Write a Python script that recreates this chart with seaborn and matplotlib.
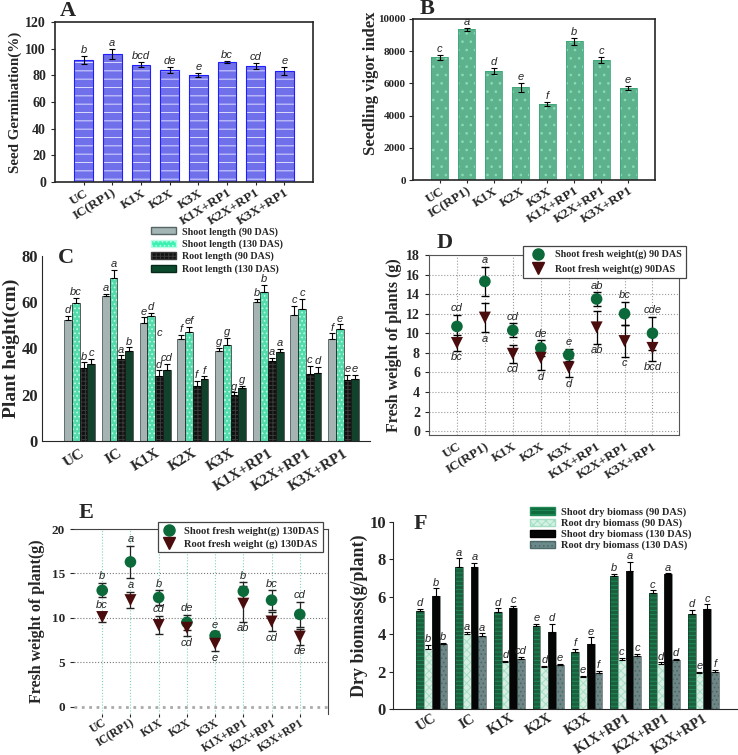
import numpy as np
import pandas as pd
import matplotlib
matplotlib.use('Agg')
import matplotlib.pyplot as plt
import seaborn as sns
from matplotlib.patches import Patch, Rectangle
from matplotlib.lines import Line2D

# ---------------- data ----------------
trt_long = ['UC', 'IC(RP1)', 'K1X', 'K2X', 'K3X', 'K1X+RP1', 'K2X+RP1', 'K3X+RP1']
trt_short = ['UC', 'IC', 'K1X', 'K2X', 'K3X', 'K1X+RP1', 'K2X+RP1', 'K3X+RP1']

# A - seed germination
germ = [91.5, 96, 88, 84, 80.5, 90, 87, 83]
germ_err = [3, 3.5, 2, 2.5, 1.5, 0.5, 2.5, 3]
germ_let = ['b', 'a', 'bcd', 'de', 'e', 'bc', 'cd', 'e']

# B - seedling vigor index
svi = [7630, 9350, 6780, 5760, 4720, 8620, 7470, 5720]
svi_err = [150, 120, 200, 280, 120, 220, 200, 110]
svi_let = ['c', 'a', 'd', 'e', 'f', 'b', 'c', 'e']

# C - plant height
c_series = ['Shoot length (90 DAS)', 'Shoot length (130 DAS)', 'Root length (90 DAS)', 'Root length (130 DAS)']
shoot90 = [52.5, 62.5, 51, 44, 39, 60, 54.5, 44]
shoot90_err = [1.5, 1, 2.5, 2, 1.2, 1.5, 4, 2.5]
shoot90_let = ['d', 'a', 'e', 'f', 'g', 'b', 'c', 'f']
shoot130 = [59.5, 70.5, 54, 47, 41.5, 64.5, 57, 48.5]
shoot130_err = [2.5, 3.5, 1.5, 2.5, 3, 3, 4.5, 2]
shoot130_let = ['bc', 'a', 'd', 'ef', 'g', 'b', 'c', 'e']
root90 = [31.5, 35.5, 28, 24, 20, 34.5, 29, 26.5]
root90_err = [2.5, 1.5, 2.5, 2, 1, 1.5, 3.5, 2]
root90_let = ['b', 'a', 'd', 'f', 'g', 'a', 'c', 'e']
root130 = [33.5, 39, 30.5, 27, 23, 38.5, 29.5, 27]
root130_err = [2, 1.5, 3, 1, 1, 1.5, 2.5, 1.5]
root130_let = ['c', 'b', 'cd', 'f', 'g', 'a', 'd', 'e']

# D - fresh weight 90 DAS
sfw90 = [10.7, 15.3, 10.3, 8.5, 7.8, 13.5, 12, 10]
sfw90_err = [1.2, 1.5, 0.7, 0.8, 0.6, 0.7, 1.2, 1.7]
sfw90_let = ['cd', 'a', 'cd', 'de', 'e', 'ab', 'bc', 'cde']
rfw90 = [9, 11.6, 7.9, 7.5, 6.5, 10.6, 9.2, 8.5]
rfw90_err = [0.8, 1.5, 0.9, 1.3, 1, 1.7, 1.6, 1.3]
rfw90_let = ['bc', 'a', 'cd', 'd', 'd', 'ab', 'c', 'bcd']

# E - fresh weight 130 DAS
sfw130 = [13.1, 16.3, 12.3, 9.5, 8, 13, 12, 10.4]
sfw130_err = [0.8, 1.8, 0.8, 0.8, 0.5, 1, 1.1, 1.4]
sfw130_let = ['b', 'a', 'b', 'de', 'e', 'b', 'bc', 'cd']
rfw130 = [10.1, 12, 9.2, 8.9, 7.1, 11.6, 9.6, 7.9]
rfw130_err = [0.6, 0.9, 1, 0.9, 0.8, 2, 1.1, 0.9]
rfw130_let = ['bc', 'a', 'cd', 'cd', 'e', 'ab', 'cd', 'de']
rfw130_above = [True, True, True, False, False, False, False, False]

# F - dry biomass
f_series = ['Shoot dry biomass (90 DAS)', 'Root dry biomass (90 DAS)', 'Shoot dry biomass (130 DAS)', 'Root dry biomass (130 DAS)']
sdb90 = [5.25, 7.6, 5.2, 4.45, 3.05, 7.1, 6.2, 5.1]
sdb90_err = [0.12, 0.45, 0.18, 0.12, 0.18, 0.12, 0.15, 0.2]
sdb90_let = ['d', 'a', 'd', 'e', 'f', 'b', 'c', 'd']
rdb90 = [3.2, 4.0, 2.5, 2.25, 1.7, 2.6, 2.4, 1.9]
rdb90_err = [0.22, 0.1, 0.07, 0.07, 0.07, 0.13, 0.1, 0.1]
rdb90_let = ['b', 'a', 'd', 'd', 'e', 'c', 'd', 'e']
sdb130 = [6.05, 7.6, 5.4, 4.1, 3.45, 7.4, 7.2, 5.35]
sdb130_err = [0.4, 0.22, 0.12, 0.45, 0.38, 0.45, 0.05, 0.25]
sdb130_let = ['b', 'a', 'c', 'd', 'e', 'a', 'a', 'c']
rdb130 = [3.5, 3.9, 2.7, 2.35, 1.95, 2.85, 2.6, 2.0]
rdb130_err = [0.05, 0.15, 0.1, 0.07, 0.07, 0.1, 0.1, 0.08]
rdb130_let = ['b', 'a', 'cd', 'e', 'f', 'c', 'd', 'f']

# ---------------- style ----------------
sns.set_style('ticks')
plt.rcParams['font.family'] = ['Liberation Serif', 'DejaVu Serif']
plt.rcParams['font.weight'] = 'bold'
plt.rcParams['hatch.linewidth'] = 0.7
LET = dict(family='Liberation Sans', style='italic', fontweight='normal', fontsize=8)

fig = plt.figure(figsize=(7.38, 7.55), dpi=100)


def fax(l, t, r, b):
    # axes from pixel box
    W, H = 738, 755
    return fig.add_axes([l / W, 1 - b / H, (r - l) / W, (b - t) / H])


def texture(ax, bars, hatch, hcolor, ecolor, lw=0.6):
    for p in bars:
        p.set_hatch(hatch)
        p.set_edgecolor(hcolor)
        p.set_linewidth(0)
        ax.add_patch(Rectangle(p.get_xy(), p.get_width(), p.get_height(),
                               fill=False, ec=ecolor, lw=lw, zorder=p.get_zorder() + 0.1))


def bar_err(ax, bars, err, lets, both=True, off=0.0):
    xs = [p.get_x() + p.get_width() / 2 for p in bars]
    ys = [p.get_height() for p in bars]
    lo = err if both else [0] * len(err)
    ax.errorbar(xs, ys, yerr=[lo, err], fmt='none', ecolor='black', elinewidth=0.8,
                capsize=2.5, capthick=0.8, zorder=5)
    for x, y, e, t in zip(xs, ys, err, lets):
        ax.text(x, y + e + off, t, ha='center', va='bottom', **LET)


def xlabels(ax, labels, size):
    ax.set_xticks(range(len(labels)))
    ax.set_xticklabels(labels, rotation=32, ha='right', rotation_mode='anchor',
                       fontsize=size, fontweight='bold')


LEG = dict(family='Liberation Serif', weight='bold')

# ---------------- A ----------------
ax = fax(55, 22, 313, 182)
sns.barplot(x=trt_long, y=germ, color='#5c5cff', width=0.66, errorbar=None, ax=ax)
texture(ax, ax.containers[0], '--', '#dcdcff', '#1f1fff', 0.8)
bar_err(ax, ax.containers[0], germ_err, germ_let, off=0.8)
ax.set_ylim(0, 120)
ax.set_xlim(-1, 8)
ax.set_yticks(range(0, 121, 20))
ax.tick_params(axis='y', labelsize=10, length=3)
ax.tick_params(axis='x', length=2.5, pad=1)
xlabels(ax, trt_long, 9.5)
ax.set_ylabel('Seed Germination(%)', fontsize=10.8, fontweight='bold', labelpad=2)
for s in ax.spines.values():
    s.set_linewidth(1.2)

# ---------------- B ----------------
ax = fax(413, 19, 655, 180)
sns.barplot(x=trt_long, y=svi, color='#4fbf8e', width=0.64, errorbar=None, ax=ax)
texture(ax, ax.containers[0], '..', '#86dcb4', '#3aa878', 0.6)
bar_err(ax, ax.containers[0], svi_err, svi_let, off=40)
ax.set_ylim(0, 10000)
ax.set_xlim(-1, 8)
ax.set_yticks(range(0, 10001, 2000))
ax.tick_params(axis='y', labelsize=8, length=3, pad=2)
ax.tick_params(axis='x', length=2.5, pad=1)
xlabels(ax, trt_long, 9.5)
ax.set_ylabel('Seedling vigor index', fontsize=12, fontweight='bold')
ax.yaxis.set_label_coords(-0.142, 0.6)
for s in ax.spines.values():
    s.set_linewidth(1.2)

# ---------------- C ----------------
ax = fax(42, 256, 370, 441)
dfc = pd.DataFrame({'trt': trt_short * 4,
                    'series': np.repeat(c_series, 8),
                    'val': shoot90 + shoot130 + root90 + root130})
c_cols = ['#a3b5b5', '#3cf2b2', '#111111', '#0b4a2c']
sns.barplot(data=dfc, x='trt', y='val', hue='series', palette=c_cols, width=0.82,
            errorbar=None, legend=False, ax=ax)
c_hatch = [('', '#566464'), ('....', '#b8ffe6'), ('++++', '#3a3a3a'), ('', '#062a19')]
c_err = [shoot90_err, shoot130_err, root90_err, root130_err]
c_let = [shoot90_let, shoot130_let, root90_let, root130_let]
for i in range(4):
    h, hc = c_hatch[i]
    texture(ax, ax.containers[i], h, hc, '#1a1a1a' if i != 0 else '#4a5555', 0.5)
    bar_err(ax, ax.containers[i], c_err[i], c_let[i], both=False, off=0.3)
k1 = ax.containers[2][2]
ax.text(k1.get_x() + k1.get_width() / 2, 44.5, 'c', ha='center', va='bottom', **LET)
ax.set_ylim(0, 80)
ax.set_xlim(-1, 7.7)
ax.set_yticks(range(0, 81, 20))
ax.tick_params(axis='y', labelsize=12, length=0, pad=3)
ax.tick_params(axis='x', length=0, pad=4)
xlabels(ax, trt_short, 11)
ax.set_xlabel('')
ax.set_ylabel('Plant height(cm)', fontsize=14, fontweight='bold', labelpad=1)
sns.despine(ax=ax)
c_handles = [Patch(facecolor=c_cols[i], hatch=c_hatch[i][0], edgecolor=c_hatch[i][1]) for i in range(4)]
ax.legend(c_handles, c_series, loc='upper left', bbox_to_anchor=(0.198, 0.706), bbox_transform=fig.transFigure,
          frameon=False, prop=dict(LEG, size=7.2),
          handlelength=2.5, handleheight=0.7, labelspacing=0.28, borderpad=0, handletextpad=0.6)

# ---------------- D ----------------
ax = fax(429, 255, 679, 435)
xs = np.arange(8)
ax.grid(True, linestyle=':', color='#9a9a9a', linewidth=0.8)
ax.errorbar(xs, sfw90, yerr=sfw90_err, fmt='none', ecolor='black', elinewidth=0.9, capsize=3, zorder=3)
ax.errorbar(xs, rfw90, yerr=rfw90_err, fmt='none', ecolor='black', elinewidth=0.9, capsize=3, zorder=3)
sns.scatterplot(x=xs, y=sfw90, color='#0c6a3a', marker='o', s=70, edgecolor='none', zorder=4, ax=ax)
sns.scatterplot(x=xs, y=rfw90, color='#4a0c0c', marker='v', s=75, edgecolor='none', zorder=4, ax=ax)
for i in range(8):
    ax.text(i, sfw90[i] + sfw90_err[i] + 0.15, sfw90_let[i], ha='center', va='bottom', **LET)
    ax.text(i, rfw90[i] - rfw90_err[i] - 0.15, rfw90_let[i], ha='center', va='top', **LET)
ax.set_ylim(-0.4, 18)
ax.set_xlim(-1, 7.95)
ax.set_yticks(range(0, 19, 2))
ax.tick_params(axis='y', labelsize=10, length=3)
ax.tick_params(axis='x', length=0, pad=4)
xlabels(ax, trt_long, 9.5)
ax.set_ylabel('Fresh weight of plants (g)', fontsize=11.5, fontweight='bold', labelpad=3)
for s in ax.spines.values():
    s.set_color('#555555')
d_handles = [Line2D([], [], ls='none', marker='o', color='#0c6a3a', ms=8),
             Line2D([], [], ls='none', marker='v', color='#4a0c0c', ms=8)]
lg = ax.legend(d_handles, ['Shoot fresh weight(g) 90 DAS', 'Root fresh weight(g) 90DAS'],
               loc='upper left', bbox_to_anchor=(0.702, 0.681), bbox_transform=fig.transFigure,
               frameon=True, fancybox=False, framealpha=1, prop=dict(LEG, size=7.2),
               handlelength=2.2, labelspacing=0.45, borderpad=0.4, handletextpad=0.6)
lg.get_frame().set_edgecolor('#444444')
lg.get_frame().set_linewidth(0.9)

# ---------------- E ----------------
ax = fax(74, 529, 328, 714)
for i in xs:
    ax.axvline(i, color='#7fd6be', ls=':', lw=0.8, zorder=0)
for v in [5, 10, 15]:
    ax.axhline(v, color='#777777', ls=':', lw=0.8, zorder=0)
ax.axhline(0, color='#aaaaaa', ls=':', lw=2, zorder=0)
ax.errorbar(xs, sfw130, yerr=sfw130_err, fmt='none', ecolor='#222222', elinewidth=0.9, capsize=3, zorder=3)
ax.errorbar(xs, rfw130, yerr=rfw130_err, fmt='none', ecolor='#222222', elinewidth=0.9, capsize=3, zorder=3)
sns.scatterplot(x=xs, y=sfw130, color='#0c6a3a', marker='o', s=70, edgecolor='none', zorder=4, ax=ax)
sns.scatterplot(x=xs, y=rfw130, color='#4a0c0c', marker='v', s=75, edgecolor='none', zorder=4, ax=ax)
for i in range(8):
    ax.text(i, sfw130[i] + sfw130_err[i] + 0.2, sfw130_let[i], ha='center', va='bottom', **LET)
    if rfw130_above[i]:
        ax.text(i, rfw130[i] + rfw130_err[i] + 0.2, rfw130_let[i], ha='center', va='bottom', **LET)
    else:
        ax.text(i, rfw130[i] - rfw130_err[i] - 0.2, rfw130_let[i], ha='center', va='top', **LET)
ax.set_ylim(-0.8, 20)
ax.set_xlim(-1, 8)
ax.set_yticks(range(0, 21, 5))
ax.tick_params(axis='y', labelsize=9.5, length=3)
ax.tick_params(axis='x', length=2, pad=0)
xlabels(ax, trt_long, 8.5)
ax.set_ylabel('Fresh weight of plant(g)', fontsize=11.5, fontweight='bold', labelpad=5)
ax.spines['left'].set_visible(False)
ax.spines['bottom'].set_visible(False)
for s in ['top', 'right']:
    ax.spines[s].set_color('#444444')
e_handles = [Line2D([], [], ls='none', marker='o', color='#0c6a3a', ms=8),
             Line2D([], [], ls='none', marker='v', color='#4a0c0c', ms=8)]
lg = ax.legend(e_handles, ['Shoot fresh weight(g) 130DAS', 'Root fresh weight (g) 130DAS'],
               loc='upper left', bbox_to_anchor=(0.207, 0.315), bbox_transform=fig.transFigure,
               frameon=True, fancybox=False, framealpha=1, prop=dict(LEG, size=7.6),
               handlelength=1.4, labelspacing=0.3, borderpad=0.35, handletextpad=0.7)
lg.get_frame().set_edgecolor('#444444')
lg.get_frame().set_linewidth(0.9)

# ---------------- F ----------------
ax = fax(393, 522, 737, 709)
dff = pd.DataFrame({'trt': trt_short * 4,
                    'series': np.repeat(f_series, 8),
                    'val': sdb90 + rdb90 + sdb130 + rdb130})
f_cols = ['#0f6b3e', '#d3f2e3', '#050505', '#6b8a8a']
sns.barplot(data=dff, x='trt', y='val', hue='series', palette=f_cols, width=0.8,
            errorbar=None, legend=False, ax=ax)
f_hatch = [('----', '#1f8a55'), ('xxxx', '#a4dec4'), ('', '#000000'), ('....', '#4c6868')]
f_err = [sdb90_err, rdb90_err, sdb130_err, rdb130_err]
f_let = [sdb90_let, rdb90_let, sdb130_let, rdb130_let]
for i in range(4):
    h, hc = f_hatch[i]
    texture(ax, ax.containers[i], h, hc, '#0a3a22' if i == 0 else ('#9bd6bb' if i == 1 else '#2a3a3a'), 0.4)
    bar_err(ax, ax.containers[i], f_err[i], f_let[i], both=False, off=0.04)
ax.set_ylim(0, 10)
ax.set_xlim(-1, 7.87)
ax.set_yticks(range(0, 11, 2))
ax.tick_params(axis='y', labelsize=12, length=3, pad=2)
ax.tick_params(axis='x', length=0, pad=2)
xlabels(ax, trt_short, 10.3)
ax.set_xlabel('')
ax.set_ylabel('Dry biomass(g/plant)', fontsize=13, fontweight='bold', labelpad=1)
sns.despine(ax=ax)
f_handles = [Patch(facecolor=f_cols[i], hatch=f_hatch[i][0], edgecolor=f_hatch[i][1]) for i in range(4)]
ax.legend(f_handles, f_series, loc='upper left', bbox_to_anchor=(0.711, 0.335), bbox_transform=fig.transFigure,
          frameon=False, prop=dict(LEG, size=7.5),
          handlelength=2.4, handleheight=0.7, labelspacing=0.15, borderpad=0, handletextpad=0.6)

# ---------------- panel letters ----------------
for t, x, y in [('A', 60, 11), ('B', 420, 9), ('C', 58, 258), ('D', 437, 243), ('E', 79, 513), ('F', 414, 524)]:
    fig.text(x / 738, 1 - y / 755, t, fontsize=16, fontweight='bold', ha='left', va='center')

fig.savefig('out.png', dpi=100)
